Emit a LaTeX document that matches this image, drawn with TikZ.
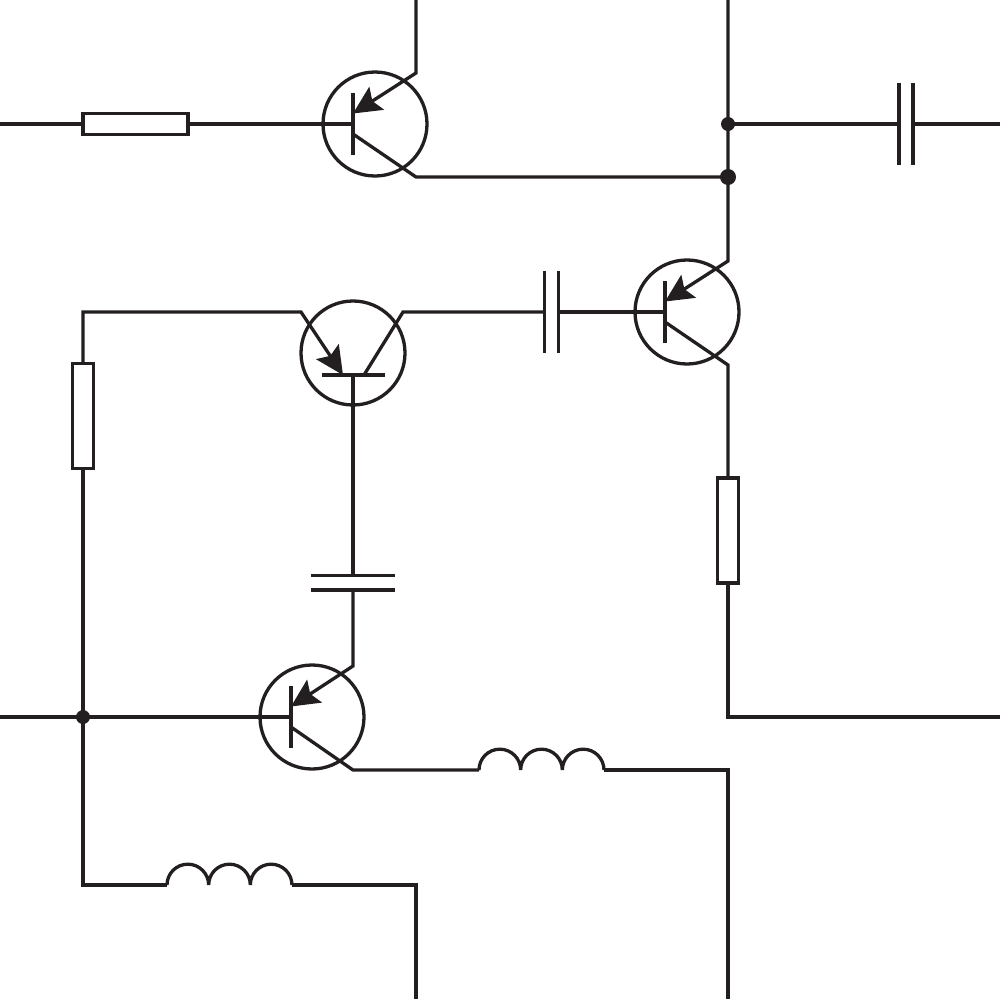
\documentclass[tikz,border=0pt]{standalone}
\usetikzlibrary{arrows.meta}
\definecolor{ink}{HTML}{231F20}
\tikzset{
  wire/.style={draw=ink,line width=3.3pt,line join=miter},
  emit/.style={wire,-{Stealth[length=28pt,width=27pt,inset=5pt]}},
  coil/.style={wire,line join=bevel},
  bjt/.style={circle,draw=ink,line width=3.3pt,minimum size=104pt,inner sep=0pt,outer sep=0pt},
  vbar/.style={rectangle,fill=ink,minimum width=3.3pt,minimum height=62pt,inner sep=0pt,outer sep=0pt},
  hbar/.style={rectangle,fill=ink,minimum width=63pt,minimum height=3.3pt,inner sep=0pt,outer sep=0pt},
  vplate/.style={rectangle,fill=ink,minimum width=3.3pt,minimum height=82pt,inner sep=0pt,outer sep=0pt},
  hplate/.style={rectangle,fill=ink,minimum width=84pt,minimum height=3.3pt,inner sep=0pt,outer sep=0pt},
  hres/.style={rectangle,draw=ink,fill=white,line width=3.3pt,minimum width=105pt,minimum height=21pt,inner sep=0pt,outer sep=0pt},
  vres/.style={rectangle,draw=ink,fill=white,line width=3.3pt,minimum width=21pt,minimum height=105pt,inner sep=0pt,outer sep=0pt},
  jdot/.style={circle,fill=ink,minimum size=14pt,inner sep=0pt,outer sep=0pt},
}
\newcommand{\coilpath}[1]{%
  \draw[coil] (#1) arc[start angle=180,end angle=360,radius=20.83pt]
    arc[start angle=180,end angle=360,radius=20.83pt]
    arc[start angle=180,end angle=360,radius=20.83pt];}
\begin{document}
\begin{tikzpicture}[x=1pt,y=1pt,yscale=-1]
\useasboundingbox (0,0) rectangle (1000,999);
% terminals
\coordinate (inA) at (0,124);
\coordinate (topA) at (416,0);
\coordinate (topB) at (728,0);
\coordinate (outA) at (1000,124);
\coordinate (outB) at (1000,717);
\coordinate (inB) at (0,717);
\coordinate (botA) at (416,999);
\coordinate (botB) at (728,999);
% transistors
\node[bjt] (T1) at (375,124) {};
\node[vbar] (B1) at (353,124) {};
\coordinate (T1e) at (416,73);
\coordinate (T1t) at (353,113.5);
\coordinate (T1s) at (353,134);
\coordinate (T1c) at (416,177);
\node[bjt] (T2) at (687,312) {};
\node[vbar] (B2) at (665,312) {};
\coordinate (T2e) at (728,261);
\coordinate (T2t) at (665,301.5);
\coordinate (T2s) at (665,322);
\coordinate (T2c) at (728,365);
\node[bjt] (T3) at (353,353) {};
\node[hbar] (B3) at (353.5,375) {};
\coordinate (T3e) at (301,312);
\coordinate (T3t) at (343,375);
\coordinate (T3s) at (364,375);
\coordinate (T3c) at (403,312);
\node[bjt] (T4) at (312,717) {};
\node[vbar] (B4) at (291,717) {};
\coordinate (T4e) at (353,666);
\coordinate (T4t) at (291,706.5);
\coordinate (T4s) at (291,727);
\coordinate (T4c) at (353,770);
\coordinate (S3) at (353,375);
% resistors
\node[hres] (R1) at (135.5,124) {};
\node[vres] (R2) at (83,416) {};
\node[vres] (R3) at (728,530.5) {};
% capacitors
\node[vplate] (C1a) at (899,124) {};
\node[vplate] (C1b) at (913,124) {};
\node[vplate] (C2a) at (544.5,312) {};
\node[vplate] (C2b) at (558.5,312) {};
\node[hplate] (C3a) at (353,575.5) {};
\node[hplate] (C3b) at (353,590) {};
% junctions
\node[jdot] (J1) at (728,124) {};
\node[jdot,minimum size=16pt] (J2) at (728,177) {};
\node[jdot] (J3) at (83,717) {};
% inductor ends
\coordinate (L1a) at (479,770);
\coordinate (L1b) at (604,770);
\coordinate (L2a) at (167,885);
\coordinate (L2b) at (292,885);
\coordinate (K1) at (728,770);
\coordinate (K2) at (416,885);
% inductors
\coilpath{L1a}
\coilpath{L2a}
% wires
\draw[wire] (inA) -- (R1.west);
\draw[wire] (R1.east) -- (B1.center);
\draw[emit] (topA) -- (T1e) -- (T1t);
\draw[wire] (T1s) -- (T1c) -- (J2.center);
\draw[emit] (topB) -- (T2e) -- (T2t);
\draw[wire] (T2s) -- (T2c) -- (R3.north);
\draw[wire] (R3.south) |- (outB);
\draw[wire] (J1.center) -- (C1a.center);
\draw[wire] (C1b.center) -- (outA);
\draw[wire] (C2b.center) -- (B2.center);
\draw[wire] (C2a.center) -- (T3c) -- (T3s);
\draw[emit] (R2.north) |- (T3e) -- (T3t);
\draw[wire] (S3) -- (C3a.center);
\draw[emit] (C3b.center) -- (T4e) -- (T4t);
\draw[wire] (T4s) -- (T4c) -- (L1a);
\draw[wire] (L1b) -- (K1) -- (botB);
\draw[wire] (inB) -- (B4.center);
\draw[wire] (R2.south) |- (L2a);
\draw[wire] (L2b) -- (K2) -- (botA);
\end{tikzpicture}
\end{document}
